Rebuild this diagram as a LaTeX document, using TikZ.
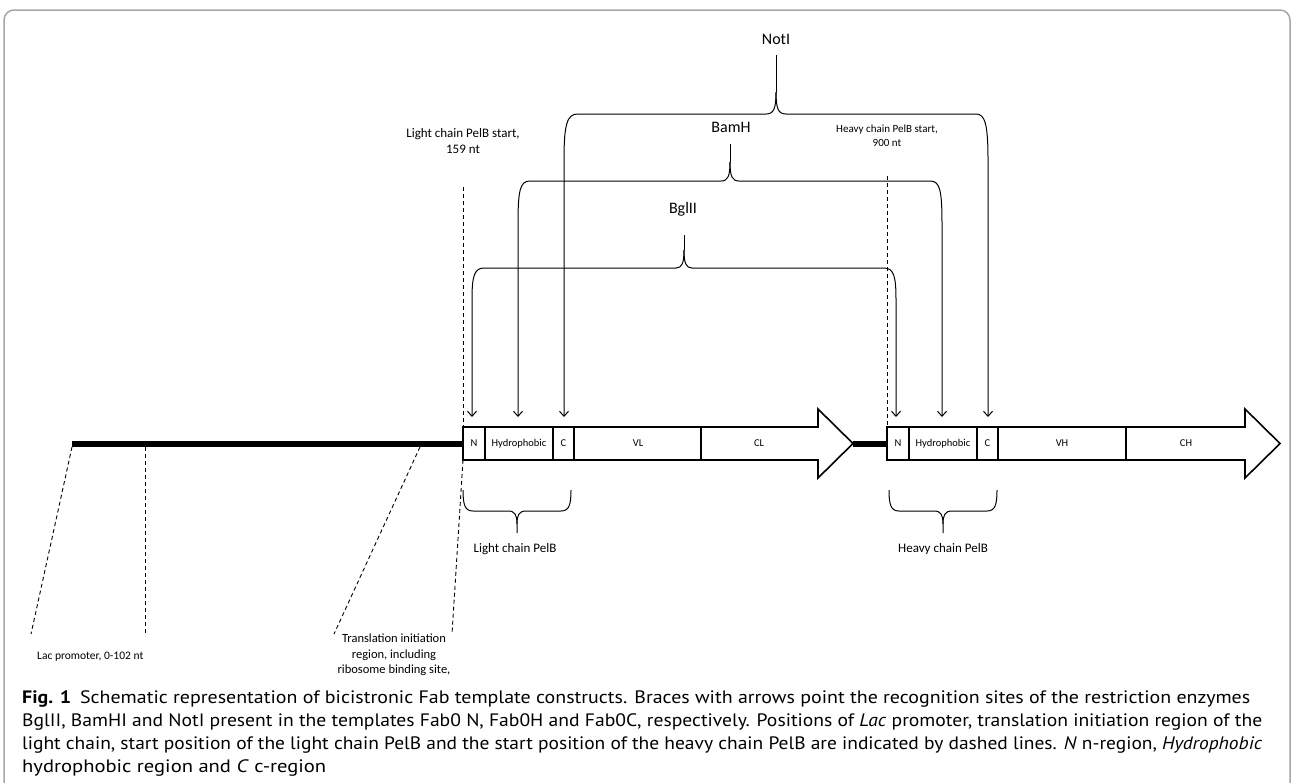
\documentclass[tikz,border=0pt]{standalone}
\usepackage{fontspec}
\usepackage{graphicx}
\setmainfont{Carlito}
\newfontfamily\capfont{PT Sans}
\usetikzlibrary{arrows.meta}
\begin{document}
\begin{tikzpicture}[x=1pt,y=-1pt,
  lbl/.style={inner sep=0pt, font=\fontsize{11}{13}\selectfont},
  boxl/.style={inner sep=0pt, font=\fontsize{10.5}{12}\selectfont},
  enz/.style={inner sep=0pt, font=\fontsize{16}{18}\selectfont},
  brc/.style={line width=1pt},
  dsh/.style={dash pattern=on 4pt off 3pt, line width=0.9pt},
  seg/.style={line width=1.6pt},
  bb/.style={line width=6pt},
  arr/.style={-{Straight Barb[length=5pt,width=9pt]}, line width=1pt},
  capl/.style={anchor=base west, inner sep=0pt, font=\capfont\fontsize{18}{22}\selectfont}
]
\useasboundingbox (0,0) rectangle (1293,782);
% frame
\draw[gray!70, line width=1.5pt, rounded corners=10pt] (4,800) -- (4,10) -- (1290,10) -- (1290,800);

% backbone
\draw[bb] (72,443.5) -- (463,443.5);
\draw[bb] (853,443.5) -- (887,443.5);

% light chain construct
\draw[seg, line join=miter, fill=white] (463,427) -- (818,427) -- (818,409) -- (853,443.5) -- (818,478) -- (818,460) -- (463,460) -- cycle;
\draw[seg] (485,427) -- (485,460);
\draw[seg] (553,427) -- (553,460);
\draw[line width=2.4pt] (574,427) -- (574,460);
\draw[seg] (701,427) -- (701,460);
\node[boxl] (lN) at (474,443.5) {N};
\node[boxl] (lH) at (519,443.5) {Hydrophobic};
\node[boxl] (lC) at (563.5,443.5) {C};
\node[boxl] (lVL) at (638,443.5) {VL};
\node[boxl] (lCL) at (759,443.5) {CL};

% heavy chain construct
\draw[seg, line join=miter, fill=white] (887,427) -- (1245,427) -- (1245,409) -- (1280,443.5) -- (1245,478) -- (1245,460) -- (887,460) -- cycle;
\draw[seg] (909,427) -- (909,460);
\draw[seg] (977,427) -- (977,460);
\draw[line width=2.4pt] (998,427) -- (998,460);
\draw[seg] (1126,427) -- (1126,460);
\node[boxl] (hN) at (898,443.5) {N};
\node[boxl] (hH) at (943,443.5) {Hydrophobic};
\node[boxl] (hC) at (987.5,443.5) {C};
\node[boxl] (hVH) at (1062,443.5) {VH};
\node[boxl] (hCH) at (1186,443.5) {CH};

% NotI brace
\node[enz] (notI) at (776,39) {NotI};
\draw[brc] (776,55) -- (776,92);
\draw[arr] (776,92) .. controls (776,108) and (774,114) .. (766,114) -- (578,114) .. controls (567,114) and (564,124) .. (564,160) -- (564,417);
\draw[arr] (776,92) .. controls (776,108) and (778,114) .. (786,114) -- (976,114) .. controls (985,114) and (988,124) .. (988,160) -- (988,417);

% BamH brace
\node[enz] (bamH) at (731,127) {BamH};
\draw[brc] (730,144) -- (730,162);
\draw[arr] (730,162) .. controls (730,176) and (728,181) .. (721,181) -- (530,181) .. controls (520,181) and (518,190) .. (518,225) -- (518,417);
\draw[arr] (730,162) .. controls (730,176) and (732,181) .. (739,181) -- (930,181) .. controls (940,181) and (942,190) .. (942,225) -- (942,417);

% BglII brace
\node[enz] (bglII) at (683,209) {BglII};
\draw[brc] (684,235) -- (684,250);
\draw[arr] (684,250) .. controls (684,263) and (682,268) .. (676,268) -- (484,268) .. controls (474,268) and (472,277) .. (472,300) -- (472,417);
\draw[arr] (684,250) .. controls (684,263) and (686,268) .. (692,268) -- (884,268) .. controls (894,268) and (896,277) .. (896,300) -- (896,417);

% PelB start labels and dashed lines
\node[lbl, font=\fontsize{13}{16}\selectfont, align=center] (lstart) at (463,141) {Light chain PelB start,\\159 nt};
\node[lbl, font=\fontsize{11}{14}\selectfont, align=center] (hstart) at (887,136) {Heavy chain PelB start,\\900 nt};
\draw[dsh] (463,187) -- (463,427);
\draw[dsh] (463,460) -- (452,634);
\draw[dsh] (887,176) -- (887,427);

% lower dashed lines
\draw[dsh] (72,447) -- (31,634);
\draw[dsh] (145,447) -- (145,634);
\draw[dsh] (420,447) -- (334,634);

\node[lbl, anchor=west, font=\fontsize{11.5}{13}\selectfont] (lac) at (37,657) {Lac promoter, 0-102 nt};
\node[lbl, align=center, font=\fontsize{12.5}{15.5}\selectfont] (tir) at (394,655) {Translation initiation\\region, including\\ribosome binding site,};

% bottom braces
\draw[brc] (463,490) .. controls (463,505) and (465,511) .. (473,511) -- (508,511) .. controls (515,511) and (517,515) .. (517,524) -- (517,533);
\draw[brc] (571,490) .. controls (571,505) and (569,511) .. (561,511) -- (526,511) .. controls (519,511) and (517,515) .. (517,524);
\node[lbl, font=\fontsize{13}{15}\selectfont] (lpel) at (515,549) {Light chain PelB};
\draw[brc] (889,490) .. controls (889,505) and (891,511) .. (899,511) -- (934,511) .. controls (941,511) and (943,515) .. (943,524) -- (943,533);
\draw[brc] (997,490) .. controls (997,505) and (995,511) .. (987,511) -- (952,511) .. controls (945,511) and (943,515) .. (943,524);
\node[lbl, font=\fontsize{13}{15}\selectfont] (hpel) at (943,549) {Heavy chain PelB};

% caption
\node[capl] (cap1) at (22,703) {\resizebox{1228pt}{\height}{\textbf{Fig. 1}\hspace{8pt}Schematic representation of bicistronic Fab template constructs. Braces with arrows point the recognition sites of the restriction enzymes}};
\node[capl] (cap2) at (22,726) {\resizebox{1240pt}{\height}{BglII, BamHI and NotI present in the templates Fab0 N, Fab0H and Fab0C, respectively. Positions of \textit{Lac} promoter, translation initiation region of the}};
\node[capl] (cap3) at (22,749) {\resizebox{1240pt}{\height}{light chain, start position of the light chain PelB and the start position of the heavy chain PelB are indicated by dashed lines. \textit{N} n-region, \textit{Hydrophobic}}};
\node[capl] (cap4) at (22,772) {\resizebox{304pt}{\height}{hydrophobic region and \textit{C} c-region}};
\end{tikzpicture}
\end{document}
